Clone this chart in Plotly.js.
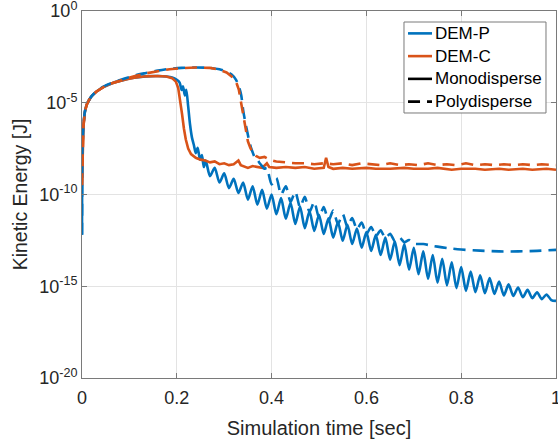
<!DOCTYPE html>
<html>
<head>
<meta charset="utf-8">
<script src="https://cdn.plot.ly/plotly-3.0.1.min.js"></script>
<style>
  html, body { margin: 0; padding: 0; background: #fff; }
  #chart { width: 558px; height: 441px; }
</style>
</head>
<body>
<div id="chart"></div>
<script>
// ---- Data (time in seconds, kinetic energy given as log10 exponents) ----
const tMonoP = [0, 0.001, 0.003, 0.006, 0.01, 0.015, 0.02, 0.03, 0.045, 0.065, 0.09, 0.11, 0.135, 0.16, 0.178, 0.19, 0.2, 0.206, 0.21, 0.213, 0.217, 0.22, 0.224, 0.228, 0.232, 0.236, 0.24, 0.244, 0.249, 0.253, 0.257, 0.261,
  0.27, 0.28, 0.29, 0.30, 0.31, 0.32, 0.33, 0.34, 0.35, 0.36, 0.37, 0.38, 0.39, 0.40, 0.41, 0.42, 0.43, 0.44, 0.45, 0.46, 0.47, 0.48, 0.49, 0.50,
  0.51, 0.52, 0.53, 0.54, 0.55, 0.56, 0.57, 0.58, 0.59, 0.60, 0.61, 0.62, 0.63, 0.64, 0.65, 0.66, 0.67, 0.68, 0.69, 0.70,
  0.71, 0.72, 0.73, 0.74, 0.75, 0.76, 0.77, 0.78, 0.79, 0.80, 0.81, 0.82, 0.83, 0.84, 0.85, 0.86, 0.87, 0.88, 0.89, 0.90,
  0.91, 0.92, 0.93, 0.94, 0.95, 0.96, 0.97, 0.98, 0.99, 1.00];
const logMonoP = [-12.2, -7.6, -6.3, -5.5, -5.1, -4.85, -4.65, -4.4, -4.15, -3.92, -3.74, -3.64, -3.56, -3.54, -3.57, -3.62, -3.75, -3.9, -4.3, -4.1, -4.6, -4.3, -5.2, -6.2, -6.9, -7.3, -7.75, -7.45, -8.1, -7.85, -8.5, -8.15,
  -9.0, -8.55, -9.35, -8.85, -9.65, -9.15, -9.92, -9.35, -10.28, -9.55, -10.55, -9.75, -10.77, -10.0, -11.08, -10.2, -11.32, -10.45, -11.6, -10.65, -11.83, -10.9, -11.98, -11.1,
  -12.15, -11.3, -12.35, -11.5, -12.52, -11.65, -12.7, -11.85, -12.9, -12.05, -13.08, -12.2, -13.3, -12.35, -13.55, -12.55, -13.85, -12.7, -14.1, -12.9,
  -14.35, -13.1, -14.6, -13.3, -14.8, -13.5, -14.95, -13.7, -15.1, -13.95, -15.25, -14.2, -15.32, -14.4, -15.38, -14.55, -15.42, -14.75, -15.5, -14.9,
  -15.53, -15.07, -15.6, -15.2, -15.65, -15.33, -15.7, -15.45, -15.75, -15.8];

const tMonoC = [0, 0.001, 0.003, 0.006, 0.01, 0.015, 0.02, 0.03, 0.045, 0.065, 0.09, 0.11, 0.135, 0.16, 0.178, 0.19, 0.198, 0.203, 0.207, 0.211, 0.215, 0.219, 0.224, 0.23, 0.24, 0.25, 0.26,
  0.27, 0.28, 0.29, 0.30, 0.31, 0.32, 0.33, 0.335, 0.34, 0.35, 0.36, 0.37, 0.38, 0.39, 0.395, 0.41, 0.43, 0.45, 0.47, 0.49, 0.51, 0.515, 0.52, 0.53, 0.55, 0.57,
  0.60, 0.62, 0.65, 0.68, 0.70, 0.73, 0.75, 0.78, 0.80, 0.83, 0.85, 0.88, 0.90, 0.93, 0.95, 0.98, 1.00];
const logMonoC = [-9.5, -7.6, -6.3, -5.5, -5.1, -4.85, -4.65, -4.4, -4.15, -3.92, -3.74, -3.64, -3.56, -3.54, -3.57, -3.66, -3.85, -4.2, -4.8, -5.6, -6.4, -7.0, -7.5, -7.8, -8.0, -8.1, -8.15,
  -8.25, -8.2, -8.35, -8.3, -8.4, -8.35, -8.15, -8.4, -8.45, -8.55, -8.45, -8.5, -8.55, -8.3, -8.5, -8.55, -8.5, -8.55, -8.5, -8.6, -8.55, -8.0, -8.5, -8.6, -8.55, -8.6,
  -8.55, -8.6, -8.6, -8.55, -8.6, -8.6, -8.55, -8.65, -8.6, -8.6, -8.65, -8.6, -8.65, -8.6, -8.65, -8.6, -8.65];

const tPolyP = [0, 0.001, 0.003, 0.006, 0.01, 0.015, 0.02, 0.03, 0.045, 0.065, 0.09, 0.11, 0.135, 0.16, 0.185, 0.21, 0.24, 0.27, 0.29, 0.305, 0.315, 0.325, 0.332, 0.336, 0.34, 0.344, 0.348, 0.352, 0.356, 0.36, 0.365, 0.37, 0.375, 0.38, 0.385,
  0.39, 0.40, 0.41, 0.42, 0.43, 0.44, 0.45, 0.46, 0.47, 0.48, 0.49, 0.50, 0.51, 0.52, 0.53, 0.54, 0.55, 0.56, 0.57, 0.58, 0.59, 0.60,
  0.61, 0.62, 0.63, 0.64, 0.65, 0.66, 0.67, 0.68, 0.69, 0.70, 0.72, 0.74, 0.76, 0.78, 0.80, 0.84, 0.88, 0.92, 0.96, 1.00];
const logPolyP = [-12.2, -7.6, -6.3, -5.5, -5.1, -4.85, -4.65, -4.4, -4.12, -3.9, -3.68, -3.52, -3.38, -3.25, -3.15, -3.1, -3.08, -3.1, -3.18, -3.3, -3.45, -3.75, -4.2, -4.6, -5.4, -6.0, -6.5, -7.0, -7.4, -7.7, -8.0, -8.1, -8.3, -8.45, -8.6,
  -8.55, -9.45, -9.1, -10.0, -9.55, -10.4, -9.85, -10.7, -10.12, -10.95, -10.4, -11.25, -10.68, -11.43, -10.88, -11.61, -11.07, -11.75, -11.28, -11.9, -11.53, -12.15,
  -11.77, -12.27, -11.95, -12.38, -12.14, -12.54, -12.35, -12.6, -12.48, -12.68, -12.7, -12.8, -12.88, -12.95, -13.0, -13.06, -13.1, -13.1, -13.07, -13.02];

const tPolyC = [0, 0.001, 0.003, 0.006, 0.01, 0.015, 0.02, 0.03, 0.045, 0.065, 0.09, 0.11, 0.135, 0.16, 0.185, 0.21, 0.24, 0.27, 0.29, 0.305, 0.315, 0.325, 0.331, 0.335, 0.34, 0.345, 0.35, 0.355, 0.36, 0.367, 0.375, 0.385, 0.395, 0.41, 0.43, 0.45,
  0.47, 0.49, 0.51, 0.53, 0.55, 0.57, 0.59, 0.61, 0.63, 0.65, 0.67, 0.69, 0.71, 0.73, 0.75, 0.77, 0.79, 0.81, 0.83, 0.85, 0.87, 0.89, 0.91, 0.93, 0.95, 0.97, 1.00];
const logPolyC = [-9.5, -7.6, -6.3, -5.5, -5.1, -4.85, -4.65, -4.4, -4.15, -3.92, -3.7, -3.55, -3.4, -3.27, -3.17, -3.12, -3.08, -3.1, -3.2, -3.35, -3.55, -3.85, -4.3, -4.9, -5.7, -6.5, -7.1, -7.45, -7.7, -7.9, -8.0, -7.95, -8.1, -8.2, -8.25, -8.3,
  -8.3, -8.35, -8.3, -8.35, -8.3, -8.4, -8.3, -8.35, -8.4, -8.3, -8.4, -8.35, -8.4, -8.3, -8.4, -8.35, -8.4, -8.3, -8.4, -8.35, -8.4, -8.35, -8.4, -8.35, -8.4, -8.35, -8.4];

const yTickVals = [1e-20, 1e-15, 1e-10, 1e-5, 1];
const yTickText = ['10<sup>-20</sup>', '10<sup>-15</sup>', '10<sup>-10</sup>', '10<sup>-5</sup>', '10<sup>0</sup>'];
const xTickVals = [0, 0.2, 0.4, 0.6, 0.8, 1];
const xTickText = ['0', '0.2', '0.4', '0.6', '0.8', '1'];
const legendNames = ['DEM-P', 'DEM-C', 'Monodisperse', 'Polydisperse'];

// ---- Styles ----
const BLUE = '#0072BD', ORANGE = '#D95319', TXT = '#262626', AX = '#7a7a7a', GRID = '#e3e3e3';
const LW = 2.6, DASH = '12px,7px';
const FONT = 'Liberation Sans, Arial, sans-serif';
const toE = a => a.map(v => Math.pow(10, v));

const traces = [
  {x: tMonoP, y: toE(logMonoP), mode: 'lines', line: {color: BLUE, width: LW, shape: 'spline', smoothing: 0.7}, showlegend: false, hoverinfo: 'skip'},
  {x: tMonoC, y: toE(logMonoC), mode: 'lines', line: {color: ORANGE, width: LW}, showlegend: false, hoverinfo: 'skip'},
  {x: tPolyP, y: toE(logPolyP), mode: 'lines', line: {color: BLUE, width: LW, dash: DASH, shape: 'spline', smoothing: 0.7}, showlegend: false, hoverinfo: 'skip'},
  {x: tPolyC, y: toE(logPolyC), mode: 'lines', line: {color: ORANGE, width: LW, dash: DASH}, showlegend: false, hoverinfo: 'skip'}
];

// ---- Manual legend (box, key lines, labels) in paper coordinates ----
const legColors = [BLUE, ORANGE, '#000', '#000'];
const legDash = ['solid', 'solid', 'solid', DASH];
const L = {x0: 0.6793, x1: 0.9789, y0: 0.7221, y1: 0.970};
const rowH = (L.y1 - L.y0) / 4;
const shapes = [{type: 'rect', xref: 'paper', yref: 'paper', x0: L.x0, x1: L.x1, y0: L.y0, y1: L.y1,
  line: {color: AX, width: 1}, fillcolor: '#fff', layer: 'above'}];
const annotations = [];
legendNames.forEach((name, i) => {
  const yc = L.y1 - rowH * (i + 0.5);
  shapes.push({type: 'line', xref: 'paper', yref: 'paper', x0: 0.6878, x1: 0.7384, y0: yc, y1: yc,
    line: {color: legColors[i], width: LW, dash: legDash[i]}, layer: 'above'});
  annotations.push({xref: 'paper', yref: 'paper', x: 0.7405, y: yc, xanchor: 'left', yanchor: 'middle',
    text: name, showarrow: false, font: {family: FONT, size: 17, color: '#000'}});
});

const axisCommon = {
  showline: true, linecolor: AX, linewidth: 1, mirror: 'ticks',
  ticks: 'inside', ticklen: 5, tickcolor: AX, tickwidth: 1,
  showgrid: true, gridcolor: GRID, gridwidth: 1, zeroline: false,
  ticklabeloverflow: 'allow',
  tickfont: {family: FONT, size: 18, color: TXT}
};

const layout = {
  width: 558, height: 441,
  margin: {l: 82, r: 2, t: 11, b: 63},
  paper_bgcolor: '#fff', plot_bgcolor: '#fff',
  font: {family: FONT, color: TXT},
  xaxis: Object.assign({}, axisCommon, {
    range: [0, 1], tickmode: 'array', tickvals: xTickVals, ticktext: xTickText,
    ticklabelstandoff: 3,
    title: {text: 'Simulation time [sec]', font: {size: 20, color: TXT}, standoff: 14}
  }),
  yaxis: Object.assign({}, axisCommon, {
    type: 'log', range: [-20, 0], tickmode: 'array', tickvals: yTickVals, ticktext: yTickText,
    title: {text: 'Kinetic Energy [J]', font: {size: 19.5, color: TXT}, standoff: 6}
  }),
  shapes: shapes,
  annotations: annotations,
  showlegend: false
};

Plotly.newPlot('chart', traces, layout, {staticPlot: true, displayModeBar: false});
</script>
</body>
</html>
